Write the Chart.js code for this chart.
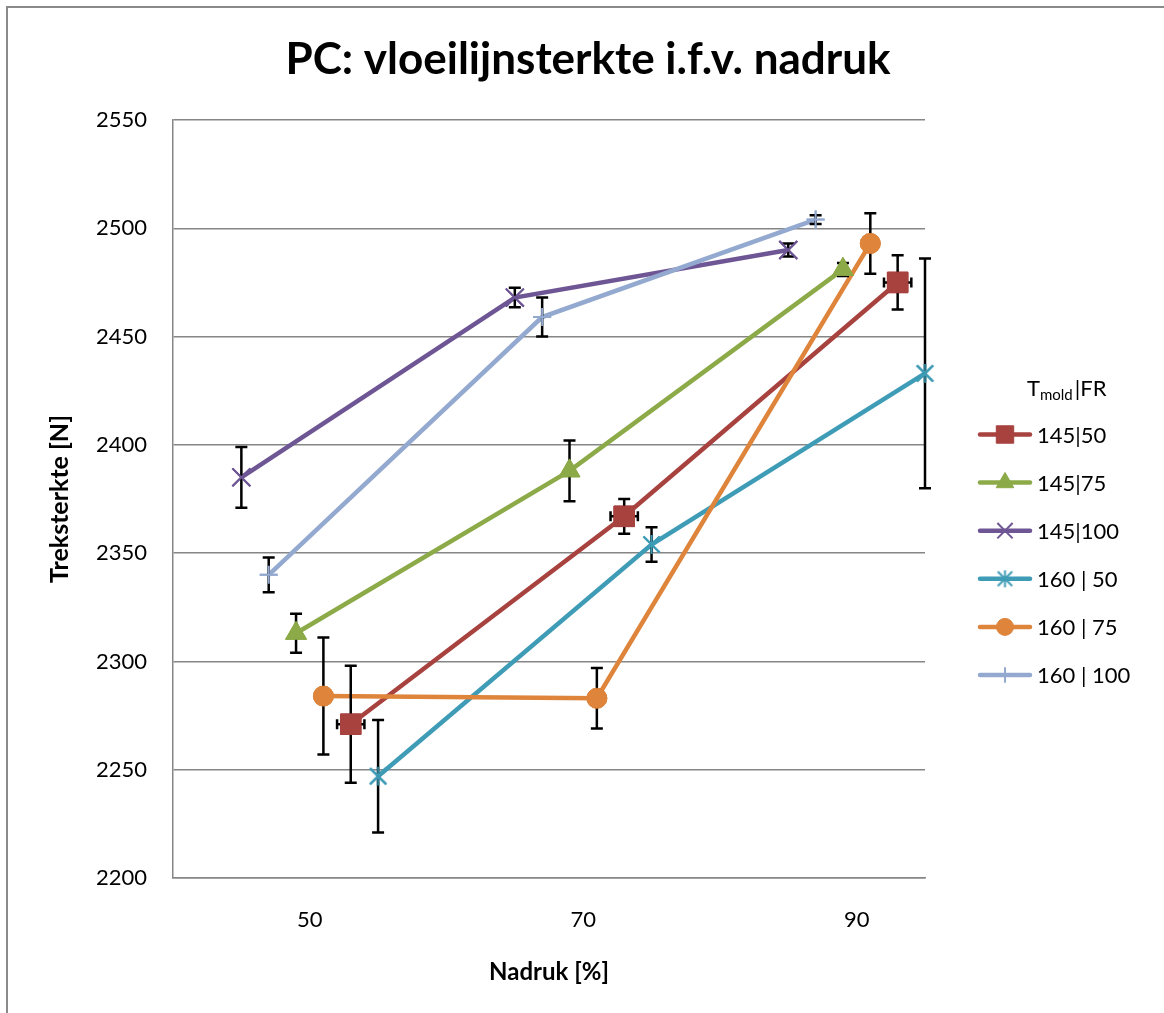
<!DOCTYPE html>
<html>
<head>
<meta charset="utf-8">
<script src="https://cdn.jsdelivr.net/npm/chart.js@4.4.1/dist/chart.umd.min.js"></script>
<style>
  html, body { margin: 0; padding: 0; background: #fff; }
  canvas { display: block; }
</style>
</head>
<body>
<canvas id="chart" width="1164" height="1013"></canvas>
<script>
// ---- data ----
const titleText = 'PC: vloeilijnsterkte i.f.v. nadruk';
const xAxisTitle = 'Nadruk [%]';
const yAxisTitle = 'Treksterkte [N]';
const xTickValues = [50, 70, 90];

const seriesLabels = ['145|50', '145|75', '145|100', '160 | 50', '160 | 75', '160 | 100'];

// nadruk [%], treksterkte [N], standaardafwijking in y en x
const nadruk_145_50  = [53, 73, 93];
const kracht_145_50  = [2271, 2367, 2475];
const fout_145_50    = [27, 8, 12.5];
const xfout_145_50   = [1, 1, 1];

const nadruk_145_75  = [49, 69, 89];
const kracht_145_75  = [2313, 2388, 2481];
const fout_145_75    = [9, 14, 3];

const nadruk_145_100 = [45, 65, 85];
const kracht_145_100 = [2385, 2468, 2490];
const fout_145_100   = [14, 4.5, 3];

const nadruk_160_50  = [55, 75, 95];
const kracht_160_50  = [2247, 2354, 2433];
const fout_160_50    = [26, 8, 53];

const nadruk_160_75  = [51, 71, 91];
const kracht_160_75  = [2284, 2283, 2493];
const fout_160_75    = [27, 14, 14];

const nadruk_160_100 = [47, 67, 87];
const kracht_160_100 = [2340, 2459, 2504];
const fout_160_100   = [8, 9, 2];

// ---- styling ----
const FONT = 'Lato';
const GRID = '#868686';
const seriesColors = ['#A8423F', '#8CAA48', '#6E5594', '#3F9CB6', '#DE843B', '#93A9CF'];

// six-armed star marker (X with a vertical stroke)
function makeAsterisk(color, r, lw) {
  const size = Math.ceil(2 * r + lw + 4);
  const c = document.createElement('canvas');
  c.width = size; c.height = size;
  const g = c.getContext('2d');
  const m = size / 2, d = r * 0.85;
  g.strokeStyle = color; g.lineWidth = lw;
  g.beginPath();
  g.moveTo(m - d, m - d); g.lineTo(m + d, m + d);
  g.moveTo(m - d, m + d); g.lineTo(m + d, m - d);
  g.moveTo(m, m - r); g.lineTo(m, m + r);
  g.stroke();
  return c;
}

const markerStyles = [
  { style: 'rect',      radius: 14.5, bw: 1 },
  { style: 'triangle',  radius: 12,   bw: 1 },
  { style: 'crossRot',  radius: 12.7, bw: 2 },
  { style: makeAsterisk(seriesColors[3], 9.5, 2), radius: 10, bw: 2 },
  { style: 'circle',    radius: 10,   bw: 1 },
  { style: 'cross',     radius: 9,    bw: 2 }
];
const legendMarkerStyles = [
  markerStyles[0].style, markerStyles[1].style, markerStyles[2].style,
  makeAsterisk(seriesColors[3], 8.5, 2), markerStyles[4].style, markerStyles[5].style
];

function points(xs, ys, errs, xerrs) {
  return xs.map((x, i) => ({ x: x, y: ys[i], yErr: errs[i], xErr: xerrs ? xerrs[i] : 0 }));
}

const seriesData = [
  points(nadruk_145_50,  kracht_145_50,  fout_145_50,  xfout_145_50),
  points(nadruk_145_75,  kracht_145_75,  fout_145_75),
  points(nadruk_145_100, kracht_145_100, fout_145_100),
  points(nadruk_160_50,  kracht_160_50,  fout_160_50),
  points(nadruk_160_75,  kracht_160_75,  fout_160_75),
  points(nadruk_160_100, kracht_160_100, fout_160_100)
];

const datasets = seriesData.map((d, i) => ({
  label: seriesLabels[i],
  data: d,
  borderColor: seriesColors[i],
  backgroundColor: seriesColors[i],
  borderWidth: 4.5,
  pointStyle: markerStyles[i].style,
  pointRadius: markerStyles[i].radius,
  pointBorderWidth: markerStyles[i].bw,
  pointBackgroundColor: seriesColors[i],
  pointBorderColor: seriesColors[i],
  tension: 0,
  clip: false,
  order: seriesData.length - 1 - i
}));

// white background and the outer chart frame
const framePlugin = {
  id: 'frame',
  beforeDraw(chart) {
    const ctx = chart.ctx;
    ctx.save();
    ctx.fillStyle = '#fff';
    ctx.fillRect(0, 0, chart.width, chart.height);
    ctx.strokeStyle = '#8a8a8a';
    ctx.lineWidth = 2;
    ctx.strokeRect(7, 7, chart.width + 50, chart.height + 50);
    ctx.restore();
  }
};

// chart title
const titlePlugin = {
  id: 'mainTitle',
  afterDraw(chart) {
    const ctx = chart.ctx;
    ctx.save();
    ctx.font = 'bold 44px ' + FONT;
    ctx.fillStyle = '#000';
    ctx.textAlign = 'center';
    ctx.textBaseline = 'middle';
    ctx.fillText(titleText, 588, 60);
    ctx.restore();
  }
};

// error bars, then the markers again so they sit on top of the bars
const errorBarPlugin = {
  id: 'errorBars',
  afterDatasetsDraw(chart) {
    const ctx = chart.ctx;
    const xs = chart.scales.x, ys = chart.scales.y;
    const cap = 6, xcap = 5;
    ctx.save();
    ctx.strokeStyle = '#000';
    ctx.lineWidth = 2.5;
    chart.data.datasets.forEach(ds => {
      ds.data.forEach(p => {
        const px = xs.getPixelForValue(p.x);
        const py = ys.getPixelForValue(p.y);
        ctx.beginPath();
        if (p.yErr) {
          const t = ys.getPixelForValue(p.y + p.yErr);
          const b = ys.getPixelForValue(p.y - p.yErr);
          ctx.moveTo(px, t); ctx.lineTo(px, b);
          ctx.moveTo(px - cap, t); ctx.lineTo(px + cap, t);
          ctx.moveTo(px - cap, b); ctx.lineTo(px + cap, b);
        }
        if (p.xErr) {
          const l = xs.getPixelForValue(p.x - p.xErr);
          const r = xs.getPixelForValue(p.x + p.xErr);
          ctx.moveTo(l, py); ctx.lineTo(r, py);
          ctx.moveTo(l, py - xcap); ctx.lineTo(l, py + xcap);
          ctx.moveTo(r, py - xcap); ctx.lineTo(r, py + xcap);
        }
        ctx.stroke();
      });
    });
    ctx.restore();
    const metas = chart.getSortedVisibleDatasetMetas();
    for (let i = metas.length - 1; i >= 0; i--) {
      metas[i].data.forEach(pt => pt.draw(ctx, chart.chartArea));
    }
  }
};

// legend with subscripted heading
const legendPlugin = {
  id: 'seriesLegend',
  afterDraw(chart) {
    const ctx = chart.ctx;
    ctx.save();
    ctx.fillStyle = '#000';
    ctx.textBaseline = 'alphabetic';
    let tx = 1027;
    ctx.font = '22px ' + FONT;
    ctx.fillText('T', tx, 396);
    tx += ctx.measureText('T').width;
    ctx.font = '15px ' + FONT;
    ctx.fillText('mold', tx, 400);
    tx += ctx.measureText('mold').width + 2;
    ctx.font = '22px ' + FONT;
    ctx.fillText('|FR', tx, 396);

    const drawPt = Chart.helpers && Chart.helpers.drawPoint;
    chart.data.datasets.forEach((ds, i) => {
      const y = 434.5 + i * 48.1;
      ctx.strokeStyle = ds.borderColor;
      ctx.lineWidth = 4.5;
      ctx.lineCap = 'round';
      ctx.beginPath();
      ctx.moveTo(980, y); ctx.lineTo(1030, y);
      ctx.stroke();
      ctx.lineCap = 'butt';
      if (drawPt) {
        ctx.fillStyle = ds.pointBackgroundColor;
        ctx.strokeStyle = ds.pointBorderColor;
        ctx.lineWidth = ds.pointBorderWidth;
        drawPt(ctx, {
          pointStyle: legendMarkerStyles[i],
          radius: ds.pointRadius * 0.85,
          rotation: 0,
          borderWidth: ds.pointBorderWidth
        }, 1005, y);
      }
      ctx.fillStyle = '#000';
      ctx.font = '22px ' + FONT;
      ctx.textBaseline = 'middle';
      ctx.fillText(ds.label, 1037, y + 1);
      ctx.textBaseline = 'alphabetic';
    });
    ctx.restore();
  }
};

new Chart(document.getElementById('chart'), {
  type: 'line',
  data: { datasets: datasets },
  plugins: [framePlugin, errorBarPlugin, titlePlugin, legendPlugin],
  options: {
    responsive: false,
    devicePixelRatio: 1,
    animation: false,
    events: [],
    layout: { padding: { left: 0, right: 239, top: 120, bottom: 0 } },
    plugins: {
      legend: { display: false },
      title: { display: false },
      tooltip: { enabled: false }
    },
    scales: {
      x: {
        type: 'linear',
        min: 40,
        max: 95,
        afterBuildTicks: s => { s.ticks = xTickValues.map(v => ({ value: v })); },
        afterFit: s => { s.height = 135; },
        grid: { display: false, drawTicks: false },
        border: { display: true, color: GRID, width: 1.5 },
        ticks: {
          padding: 29, color: '#000', font: { family: FONT, size: 22 },
          callback: v => String(v)
        },
        title: {
          display: true, text: xAxisTitle, color: '#000',
          font: { family: FONT, size: 24, weight: 'bold' },
          padding: { top: 0, bottom: 26.6 }
        }
      },
      y: {
        type: 'linear',
        min: 2200,
        max: 2550,
        afterFit: s => { s.width = 173; },
        grid: { color: GRID, lineWidth: 1.5, drawTicks: false },
        border: { display: true, color: GRID, width: 1.5 },
        ticks: {
          stepSize: 50, padding: 26, color: '#000', font: { family: FONT, size: 22 },
          callback: v => String(v)
        },
        title: {
          display: true, text: yAxisTitle, color: '#000',
          font: { family: FONT, size: 25, weight: 'bold' },
          padding: { top: 45, bottom: 0 }
        }
      }
    }
  }
});
</script>
</body>
</html>
